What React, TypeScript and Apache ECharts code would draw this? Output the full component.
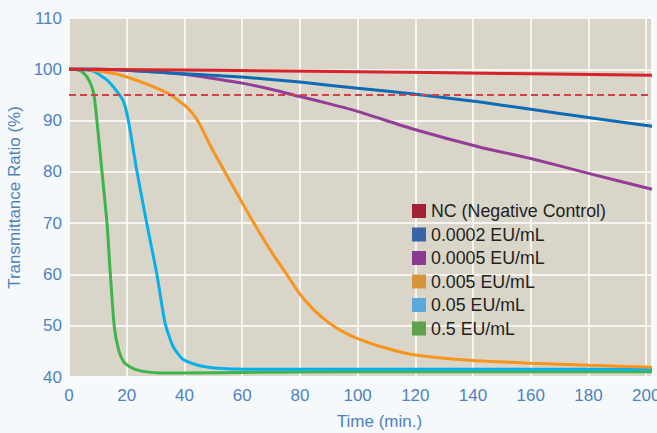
import React, { useEffect, useRef } from "react";
import * as echarts from "echarts";

const seriesNames = [
  "NC (Negative Control)",
  "0.0002 EU/mL",
  "0.0005 EU/mL",
  "0.005 EU/mL",
  "0.05 EU/mL",
  "0.5 EU/mL",
];

const tNC = [0, 50, 100, 150, 202];
const vNC = [100, 99.8, 99.5, 99.2, 98.85];

const t0002 = [0, 10, 20, 31.5, 45, 60, 80, 100, 119.5, 142.5, 160, 180, 202];
const v0002 = [100, 100, 99.8, 99.4, 99, 98.5, 97.5, 96.3, 95.2, 93.6, 92.2, 90.6, 88.9];

const t0005 = [0, 10, 20, 31.5, 43, 50, 60, 70, 80, 90, 100, 119.5, 142.5, 160, 180, 202];
const v0005 = [100, 100, 99.8, 99.4, 98.8, 98.2, 97.3, 96.1, 94.7, 93.3, 91.8, 88.3, 84.8, 82.6, 79.7, 76.6];

const t005 = [0, 5, 10.9, 17.8, 24.7, 30, 35, 40, 42.5, 45, 48.8, 54.5, 60.3, 64.9, 70.6, 75.2, 79.8, 85, 90, 95, 100, 110, 120, 140, 160, 180, 202];
const v005 = [100, 100, 99.6, 98.9, 97.6, 96.4, 95.1, 93, 91.6, 89.6, 85.3, 79.5, 73.7, 69.2, 64, 60.2, 56.3, 53.0, 50.6, 48.8, 47.5, 45.6, 44.3, 43.2, 42.7, 42.3, 41.9];

const t05 = [0, 5, 8.6, 13.2, 16.6, 18.9, 20.6, 23.5, 27, 30.4, 33.3, 36.1, 39.6, 45.3, 54.5, 70, 100, 150, 202];
const v05 = [100, 99.9, 99.6, 97.9, 95.7, 93.7, 89.9, 80.2, 69.8, 60.2, 50.5, 45.9, 43.4, 42.2, 41.6, 41.5, 41.5, 41.5, 41.5];

const t5 = [0, 3, 5, 7, 8.6, 9.7, 11.4, 13.2, 14.3, 15.7, 17.2, 18.9, 21, 23.5, 27, 31.6, 40, 60, 100, 150, 202];
const v5 = [100, 99.9, 99.3, 97.8, 95.2, 89.8, 80.2, 69.8, 60.2, 49.8, 45.3, 43, 42, 41.4, 41, 40.8, 40.8, 40.9, 41, 41, 41];

const thresholdValue = 95;
const xTicks = [0, 20, 40, 60, 80, 100, 120, 140, 160, 180, 200];
const yTicks = [40, 50, 60, 70, 80, 90, 100, 110];

const lineColors = ["#d8232a", "#0f6ab4", "#933c98", "#f7941e", "#08b0ea", "#3db54b"];
const legendColors = ["#a31f34", "#3a64a8", "#8b3a8f", "#d6943d", "#5ca8dd", "#5fa14c"];

const pairs = (t: number[], v: number[]) => t.map((x, i) => [x, v[i]]);

export default function App() {
  const ref = useRef<HTMLDivElement>(null);
  useEffect(() => {
    if (!ref.current) return;
    const chart = echarts.init(ref.current, undefined, { renderer: "svg" });
    const font = "'Liberation Sans', Arial, Helvetica, sans-serif";
    const dataSets = [pairs(tNC, vNC), pairs(t0002, v0002), pairs(t0005, v0005), pairs(t005, v005), pairs(t05, v05), pairs(t5, v5)];
    const lineSeries = seriesNames.map((name, i) => ({
      name,
      type: "line",
      data: dataSets[i],
      showSymbol: false,
      symbol: "none",
      smooth: 0.2,
      lineStyle: { color: lineColors[i], width: 3 },
      itemStyle: { color: legendColors[i] },
      z: 10 - i,
    }));
    const xMin = xTicks[0];
    const xMax = 202;
    chart.setOption({
      animation: false,
      backgroundColor: "#f5f9fc",
      textStyle: { fontFamily: font },
      grid: {
        left: 69,
        right: 5,
        top: 18,
        bottom: 56,
        outerBoundsMode: "none",
        containLabel: false,
        show: true,
        backgroundColor: "#d9d5c9",
        borderWidth: 0,
      },
      legend: {
        orient: "vertical",
        left: 407,
        top: 197,
        itemWidth: 14,
        itemHeight: 14,
        itemGap: 5.5,
        icon: "rect",
        textStyle: { fontSize: 17.8, color: "#231f20", fontFamily: font },
        data: seriesNames.map((name, i) => ({ name, itemStyle: { color: legendColors[i] } })),
      },
      xAxis: {
        type: "value",
        min: xMin,
        max: xMax,
        interval: 20,
        name: "Time (min.)",
        nameLocation: "middle",
        nameGap: 36,
        nameTextStyle: { color: "#4f82bd", fontSize: 17, padding: [0, 0, 0, 38] },
        axisLine: { show: false },
        axisTick: { show: false },
        axisLabel: {
          color: "#4f82bd",
          fontSize: 17,
          margin: 10,
          formatter: (v: number) => (xTicks.includes(v) ? String(v) : ""),
        },
        splitLine: { show: true, lineStyle: { color: "#ffffff", width: 1.5 } },
      },
      yAxis: {
        type: "value",
        min: yTicks[0],
        max: yTicks[yTicks.length - 1],
        interval: 10,
        name: "Transmittance Ratio (%)",
        nameLocation: "middle",
        nameGap: 42,
        nameTextStyle: { color: "#4f82bd", fontSize: 17 },
        axisLine: { show: false },
        axisTick: { show: false },
        axisLabel: { color: "#4f82bd", fontSize: 17, margin: 7 },
        splitLine: { show: true, lineStyle: { color: "#ffffff", width: 1.5 } },
      },
      series: [
        ...lineSeries.slice().reverse(),
        {
          name: "threshold",
          type: "line",
          data: [[xMin, thresholdValue], [xMax, thresholdValue]],
          showSymbol: false,
          symbol: "none",
          silent: true,
          lineStyle: { color: "#d2404a", width: 2, type: [7, 4] },
          z: 11,
        },
      ],
    });
    return () => chart.dispose();
  }, []);
  return (
    <div
      ref={ref}
      style={{ position: "absolute", left: 0, top: 0, width: 657, height: 433 }}
    />
  );
}
